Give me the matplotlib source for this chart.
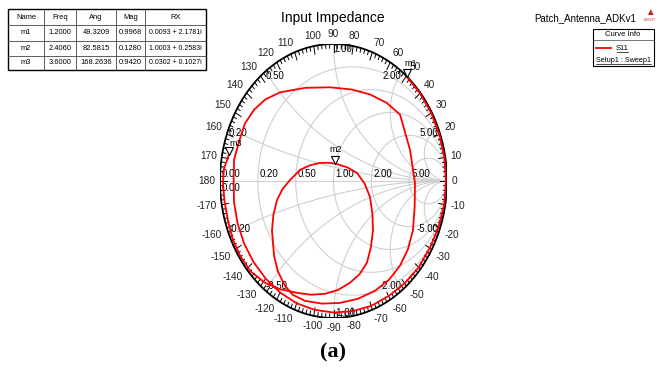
import numpy as np
import matplotlib
matplotlib.use('Agg')
import matplotlib.pyplot as plt
from matplotlib.patches import Rectangle

# marker table
names = ['m1', 'm2', 'm3']
freqs = ['1.2000', '2.4060', '3.6000']
angs = ['49.3209', '82.5815', '168.2636']
mags = ['0.9968', '0.1280', '0.9420']
rx = ['0.0093 + 2.1781i', '1.0003 + 0.2583i', '0.0302 + 0.1027i']
mk_ang = [49.3209, 82.5815, 168.2636]
mk_mag = [0.9968, 0.1280, 0.9420]

# S11 trace (reflection coefficient)
edge_ang = [49.3, 40, 30, 20, 10, 0, -10, -20, -30, -40, -50, -60, -70, -80, -90,
            -100, -110, -120, -130, -140, -150, -160, -170, -180, 170, 160]
edge_mag = [0.997, 0.995, 0.994, 0.993, 0.992, 0.99, 0.99, 0.985, 0.98, 0.98, 0.975,
            0.97, 0.97, 0.965, 0.96, 0.955, 0.95, 0.94, 0.93, 0.92, 0.91, 0.9, 0.89,
            0.88, 0.89, 0.88]
loop_re = [-0.780, -0.700, -0.600, -0.471, -0.250, -0.031, 0.160, 0.322, 0.470, 0.586, 0.674, 0.718, 0.715,
           0.700, 0.655, 0.586, 0.490, 0.366, 0.215, 0.057, -0.100, -0.251,
           -0.360, -0.427, -0.490, -0.524, -0.542, -0.530, -0.498, -0.450, -0.383, -0.295, -0.205,
           -0.119, -0.050, 0.0165, 0.120, 0.207, 0.275, 0.322, 0.343, 0.348,
           0.330, 0.295, 0.230, 0.145, 0.040, -0.075, -0.200, -0.322,
           -0.470, -0.604, -0.730, -0.824, -0.890, -0.930, -0.960, -0.974, -0.965, -0.922]
loop_im = [0.420, 0.520, 0.596, 0.647, 0.680, 0.684, 0.668, 0.632, 0.570, 0.485, 0.228, -0.015, -0.190,
           -0.360, -0.500, -0.618, -0.720, -0.801, -0.860, -0.890, -0.895, -0.875,
           -0.830, -0.765, -0.660, -0.544, -0.360, -0.250, -0.140, -0.060, 0.007, 0.081, 0.115,
           0.132, 0.133, 0.127, 0.100, 0.059, -0.020, -0.118, -0.240, -0.360,
           -0.480, -0.596, -0.680, -0.743, -0.795, -0.824, -0.830, -0.816,
           -0.790, -0.743, -0.660, -0.544, -0.420, -0.287, -0.150, -0.015, 0.090, 0.191]

grid_r = [0.2, 0.5, 1.0, 2.0, 5.0]
grid_x = [0.2, 0.5, 1.0, 2.0, 5.0]
deg_labels = list(range(0, 190, 10)) + list(range(-170, 0, 10))

W, H = 665, 369
fig = plt.figure(figsize=(W / 100, H / 100), dpi=100)
plt.rcParams['font.family'] = ['Liberation Sans', 'DejaVu Sans']

# chart area in pixels (the reference is stretched vertically)
x0, x1, ytop, ybot = 220, 447, 44, 318
ax = fig.add_axes([x0 / W, 1 - ybot / H, (x1 - x0) / W, (ybot - ytop) / H])
ax.set_xlim(-1, 1)
ax.set_ylim(-1, 1)
ax.axis('off')

gc = '#cfcfcf'
t = np.linspace(0, 2 * np.pi, 400)
for r in grid_r:
    c = r / (1 + r)
    rad = 1 / (1 + r)
    ax.plot(c + rad * np.cos(t), rad * np.sin(t), color=gc, lw=0.8, zorder=1)
rr = np.concatenate([[0], np.logspace(-3, 3, 400)])
for xv in grid_x:
    for s in (1, -1):
        z = rr + 1j * s * xv
        g = (z - 1) / (z + 1)
        ax.plot(g.real, g.imag, color=gc, lw=0.8, zorder=1)
ax.plot([-1, 1], [0, 0], color=gc, lw=0.8, zorder=1)

# outer ring + ticks
ax.plot(np.cos(t), np.sin(t), color='black', lw=1.3, zorder=3)
for d in range(0, 360, 2):
    a = np.radians(d)
    L = 0.06 if d % 10 == 0 else 0.03
    ax.plot([np.cos(a), (1 - L) * np.cos(a)], [np.sin(a), (1 - L) * np.sin(a)],
            color='black', lw=0.7, zorder=3)

# angle labels
for d in deg_labels:
    a = np.radians(d)
    c, s = np.cos(a), np.sin(a)
    ha = 'left' if c > 0.25 else ('right' if c < -0.25 else 'center')
    va = 'bottom' if s > 0.25 else ('top' if s < -0.25 else 'center')
    ax.annotate(str(d), (c, s), xytext=(3.5 * c, 3.5 * s), textcoords='offset points',
                ha=ha, va=va, fontsize=7.3, color='#222222', annotation_clip=False)

# grid labels on real axis
for r in grid_r:
    gx = (r - 1) / (r + 1)
    ax.text(gx + 0.02, 0.015, '%.2f' % r, fontsize=7, ha='left', va='bottom', zorder=4)
ax.text(-0.99, 0.015, '0.00', fontsize=7, ha='left', va='bottom', zorder=4)
ax.text(-0.99, -0.015, '0.00', fontsize=7, ha='left', va='top', zorder=4)
# reactance labels on the rim
for xv in grid_x:
    for s in (1, -1):
        g = (1j * s * xv - 1) / (1j * s * xv + 1)
        ha = 'left' if g.real < -0.05 else ('right' if g.real > 0.05 else 'left')
        va = 'top' if s > 0 else 'bottom'
        lab = ('%.2f' % xv) if s > 0 else ('-%.2f' % xv)
        ax.text(g.real, g.imag, lab, fontsize=7, ha=ha, va=va, zorder=4)

# S11 trace
ea = np.radians(edge_ang)
tr_re = np.concatenate([np.array(edge_mag) * np.cos(ea), loop_re])
tr_im = np.concatenate([np.array(edge_mag) * np.sin(ea), loop_im])
ax.plot(tr_re, tr_im, color='#ff0000', lw=1.3, zorder=5, clip_on=False)

# markers
lab_off = [(0.03, 0.07), (0.0, 0.07), (0.06, 0.05)]
for n, a, m, (dx, dy) in zip(names, mk_ang, mk_mag, lab_off):
    gx, gy = m * np.cos(np.radians(a)), m * np.sin(np.radians(a))
    ax.plot(gx, gy + 0.03, marker='v', ms=6, mfc='white', mec='black', mew=0.8, zorder=6)
    ax.text(gx + dx, gy + dy, n, fontsize=6.5, ha='center', va='bottom', zorder=6)

# title and "(a)"
fig.text(333 / W, 1 - 18 / H, 'Input Impedance', fontsize=10, ha='center', va='center')
fig.text(333 / W, 1 - 352 / H, '(a)', fontsize=16, ha='center', va='center',
         fontweight='bold', family='Liberation Serif')

# marker table
cols = [8, 44, 76, 116, 145, 206]
rows = [9.5, 25, 40.5, 56, 70]
fig.patches.append(Rectangle((cols[0] / W, 1 - rows[-1] / H), (cols[-1] - cols[0]) / W,
                             (rows[-1] - rows[0]) / H, transform=fig.transFigure,
                             fill=False, ec='black', lw=1.0))
for xc in cols[1:-1]:
    fig.add_artist(plt.Line2D([xc / W] * 2, [1 - rows[0] / H, 1 - rows[-1] / H], color='#444444', lw=0.6))
for yr in rows[1:-1]:
    fig.add_artist(plt.Line2D([cols[0] / W, cols[-1] / W], [1 - yr / H] * 2, color='#444444', lw=0.6))
table = [['Name', 'Freq', 'Ang', 'Mag', 'RX']]
for i in range(3):
    table.append([names[i], freqs[i], angs[i], mags[i], rx[i]])
for i, row in enumerate(table):
    yc = (rows[i] + rows[i + 1]) / 2
    for j, cell in enumerate(row):
        xc = (cols[j] + cols[j + 1]) / 2
        fs = 5.0 if j == 4 and i > 0 else 5.4
        fig.text(xc / W, 1 - yc / H, cell, fontsize=fs, ha='center', va='center')

# right side: design name, logo and curve info box
fig.text(585 / W, 1 - 18 / H, 'Patch_Antenna_ADKv1', fontsize=7, ha='center', va='center')
fig.text(650 / W, 1 - 12 / H, '\u25b2', fontsize=7, color='#cc2222', ha='center', va='center')
fig.text(650 / W, 1 - 20 / H, 'ANSOFT', fontsize=2, color='#cc2222', ha='center', va='center')
fig.patches.append(Rectangle((593 / W, 1 - 66 / H), 61 / W, 37 / H, transform=fig.transFigure,
                             fill=False, ec='black', lw=0.8))
fig.add_artist(plt.Line2D([593 / W, 654 / W], [1 - 40 / H] * 2, color='#444444', lw=0.5))
fig.text(623 / W, 1 - 34 / H, 'Curve Info', fontsize=5.5, ha='center', va='center')
fig.add_artist(plt.Line2D([596 / W, 611 / W], [1 - 48 / H] * 2, color='#ff0000', lw=1.3))
fig.text(622 / W, 1 - 48 / H, 'S11', fontsize=5.5, ha='center', va='center')
fig.add_artist(plt.Line2D([617 / W, 628 / W], [1 - 52 / H] * 2, color='black', lw=0.5))
fig.text(623 / W, 1 - 60 / H, 'Setup1 : Sweep1', fontsize=5.2, ha='center', va='center')
fig.add_artist(plt.Line2D([596 / W, 651 / W], [1 - 64 / H] * 2, color='black', lw=0.5))

fig.savefig('out.png', dpi=100)
